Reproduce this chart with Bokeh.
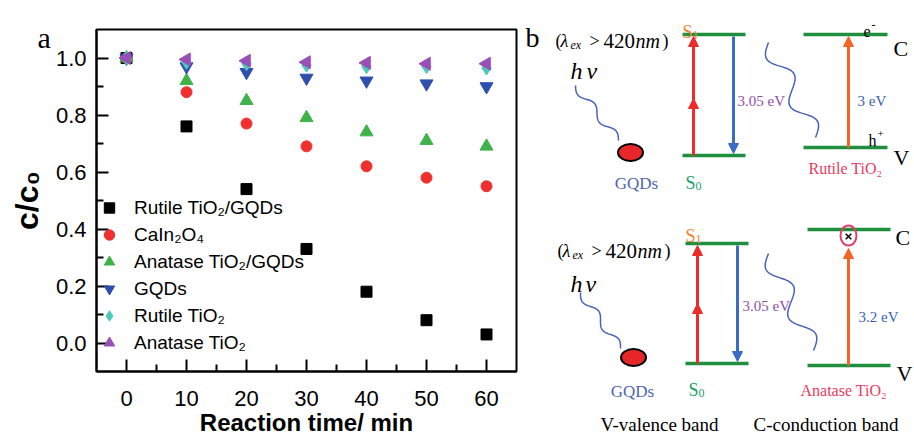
import numpy as np
from bokeh.plotting import figure
from bokeh.models import Range1d, FixedTicker, PrintfTickFormatter, Arrow, NormalHead
from bokeh.layouts import row
from bokeh.core.properties import value
from bokeh.embed import file_html
from bokeh.resources import INLINE

# ---------------- data (panel a) ----------------
time_min = [0, 10, 20, 30, 40, 50, 60]
rutile_tio2_gqds = [1.0, 0.76, 0.54, 0.33, 0.18, 0.08, 0.03]
cain2o4 = [1.0, 0.88, 0.77, 0.69, 0.62, 0.58, 0.55]
anatase_tio2_gqds = [1.0, 0.92, 0.85, 0.79, 0.74, 0.71, 0.69]
gqds = [1.0, 0.97, 0.95, 0.93, 0.92, 0.91, 0.90]
rutile_tio2 = [1.0, 0.985, 0.98, 0.975, 0.97, 0.97, 0.965]
anatase_tio2 = [1.0, 0.995, 0.99, 0.985, 0.983, 0.98, 0.98]

series_labels = ["Rutile TiO\u2082/GQDs", "CaIn\u2082O\u2084", "Anatase TiO\u2082/GQDs",
                 "GQDs", "Rutile TiO\u2082", "Anatase TiO\u2082"]
x_ticks = [0, 10, 20, 30, 40, 50, 60]
x_minor = [5, 15, 25, 35, 45, 55]
y_ticks = [0.0, 0.2, 0.4, 0.6, 0.8, 1.0]
y_minor = [0.1, 0.3, 0.5, 0.7, 0.9]

SANS = "Liberation Sans"
SERIF = "Liberation Serif"

# ---------------- panel a ----------------
pa = figure(width=520, height=438, x_range=Range1d(-5, 65), y_range=Range1d(-0.1, 1.1),
            output_backend="svg", toolbar_location=None,
            min_border_left=96, min_border_right=4, min_border_top=29, min_border_bottom=67)
pa.frame_align = False
pa.grid.visible = False
pa.outline_line_color = "black"
pa.outline_line_width = 2

styles = [
    (rutile_tio2_gqds, "square", "#000000", 11, 0.0),
    (cain2o4, "circle", "#f0302e", 11, 0.0),
    (anatase_tio2_gqds, "triangle", "#3fb24a", 13, 0.0),
    (gqds, "inverted_triangle", "#2f4fae", 13, 0.0),
    (rutile_tio2, "diamond", "#4ec9b7", 14, 0.0),
    (anatase_tio2, "triangle", "#9a4fb8", 13, np.pi / 2),
]
for (vals, mk, col, sz, ang), lab in zip(styles, series_labels):
    pa.scatter(time_min, vals, marker=mk, size=sz, angle=ang, fill_color=col,
               line_color=col, legend_label=lab)

pa.xaxis.ticker = FixedTicker(ticks=x_ticks, minor_ticks=x_minor)
pa.yaxis.ticker = FixedTicker(ticks=y_ticks, minor_ticks=y_minor)
pa.yaxis.formatter = PrintfTickFormatter(format="%.1f")
for ax in pa.axis:
    ax.major_tick_in = 12
    ax.major_tick_out = 0
    ax.minor_tick_in = 7
    ax.minor_tick_out = 0
    ax.major_tick_line_width = 2
    ax.minor_tick_line_width = 2
    ax.axis_line_width = 2
    ax.axis_line_color = "black"
    ax.major_tick_line_color = "black"
    ax.minor_tick_line_color = "black"
    ax.major_label_text_font = SANS
    ax.major_label_text_font_size = "22px"
    ax.major_label_text_color = "black"
pa.xaxis.major_label_standoff = 19
pa.yaxis.major_label_standoff = 10
pa.yaxis.axis_label = "c/c\u2080"
pa.yaxis.axis_label_text_font = SANS
pa.yaxis.axis_label_text_font_size = "32px"
pa.yaxis.axis_label_text_font_style = "bold"
pa.yaxis.axis_label_text_color = "black"
pa.yaxis.axis_label_standoff = 8
pa.xaxis.axis_label = "Reaction time/ min"
pa.xaxis.axis_label_text_font = SANS
pa.xaxis.axis_label_text_font_size = "24px"
pa.xaxis.axis_label_text_font_style = "bold"
pa.xaxis.axis_label_text_color = "black"
pa.xaxis.axis_label_standoff = 0

lg = pa.legend[0]
lg.location = (0, 15)
lg.glyph_width = 26
lg.glyph_height = 27
lg.label_height = 27
lg.spacing = 0
lg.padding = 0
lg.margin = 0
lg.label_standoff = 12
lg.label_text_font = SANS
lg.label_text_font_size = "19px"
lg.label_text_color = "black"
lg.background_fill_alpha = 0
lg.border_line_alpha = 0

# ---------------- panel b (schematic, transparent overlay in page pixels) ----------------
pb = figure(width=914, height=438, x_range=Range1d(0, 914), y_range=Range1d(438, 0),
            output_backend="svg", toolbar_location=None,
            x_axis_location=None, y_axis_location=None,
            min_border_left=0, min_border_right=0, min_border_top=0, min_border_bottom=0)
pb.frame_align = False
pb.grid.visible = False
pb.outline_line_color = None
pb.background_fill_color = None
pb.border_fill_color = None
pb.styles = {"margin-left": "-520px"}

GREEN = "#1f8f3f"
RED = "#ee2b2b"
BLUE = "#3b6bc6"
ORANGE = "#f26522"
PURPLE = "#8e4fa8"
EVBLUE = "#3c5fb8"
GQDBLUE = "#5066b0"
PINK = "#ec3a5f"
WAVE = "#4a63b8"

# energy levels: (x_start, x_end, y)
levels = [(682, 745, 34), (682, 745, 155), (803, 887, 34), (803, 887, 147),
          (685, 748, 243), (685, 748, 363), (807, 890, 229), (807, 890, 365)]
pb.segment(x0=[l[0] for l in levels], x1=[l[1] for l in levels],
           y0=[l[2] for l in levels], y1=[l[2] for l in levels],
           line_color=GREEN, line_width=3.5)

# arrows: (x0, y0, x1, y1, color)
arrows = [(693, 155, 693, 36, RED), (693, 155, 693, 98, RED), (733, 36, 733, 153, BLUE),
          (848, 147, 848, 36, ORANGE),
          (697, 363, 697, 245, RED), (697, 363, 697, 303, RED), (737, 245, 737, 361, BLUE),
          (848, 365, 848, 248, ORANGE)]
for x0, y0, x1, y1, c in arrows:
    pb.add_layout(Arrow(end=NormalHead(size=10, fill_color=c, line_color=c, line_width=1),
                        x_start=x0, y_start=y0, x_end=x1, y_end=y1,
                        line_color=c, line_width=3))


def wave(x0, y0, x1, y1, amp, cycles, n=90):
    t = np.linspace(0, 1, n)
    dx, dy = x1 - x0, y1 - y0
    L = np.hypot(dx, dy)
    nx, ny = -dy / L, dx / L
    off = amp * np.sin(2 * np.pi * cycles * t)
    return x0 + dx * t + nx * off, y0 + dy * t + ny * off


waves = [(575, 85, 618, 140, 4, 2.0), (768, 42, 815, 137, 9, 2.0),
         (580, 292, 620, 348, 4, 2.0), (768, 253, 813, 350, 9, 2.0)]
for w in waves:
    wx, wy = wave(*w)
    pb.line(wx, wy, line_color=WAVE, line_width=1.5)

# GQD dots
pb.ellipse(x=[630, 633], y=[152, 357], width=25, height=17, fill_color="#e82828",
           line_color="black", line_width=2)
# blocked electron marker
pb.ellipse(x=[848], y=[235], width=16, height=20, fill_color=None, line_color="#e0406a",
           line_width=2)
pb.scatter(x=[848], y=[236], marker="x", size=8, line_color="black", line_width=1.5)

# texts: (x, y, text, size, color, style, align)
texts = [
    (37, 37, "a", 30, "black", "normal", "left"),
    (525, 37, "b", 28, "black", "normal", "left"),
    # top half
    (555, 40, "(", 18, "black", "normal", "left"),
    (560, 40, "\u03bb", 18, "black", "italic", "left"),
    (570, 44, "ex", 12, "black", "italic", "left"),
    (589, 40, ">", 18, "black", "normal", "left"),
    (603, 40, "420", 21, "black", "normal", "left"),
    (635, 40, "nm", 20, "black", "italic", "left"),
    (662, 40, ")", 18, "black", "normal", "left"),
    (570, 70, "h", 24, "black", "italic", "left"),
    (586, 70, "\u03bd", 24, "black", "italic", "left"),
    (636, 183, "GQDs", 17, GQDBLUE, "normal", "center"),
    (682, 31, "S", 18, "#f58231", "normal", "left"),
    (692, 34, "1", 12, "#f58231", "normal", "left"),
    (685, 182, "S", 18, "#22a06b", "normal", "left"),
    (695, 185, "0", 12, "#22a06b", "normal", "left"),
    (737, 100, "3.05 eV", 15, PURPLE, "normal", "left"),
    (863, 31, "e", 16, "black", "normal", "left"),
    (871, 24, "-", 12, "black", "normal", "left"),
    (893, 48, "C", 22, "black", "normal", "left"),
    (857, 100, "3 eV", 15, EVBLUE, "normal", "left"),
    (868, 140, "h", 16, "black", "normal", "left"),
    (877, 133, "+", 11, "black", "normal", "left"),
    (893, 157, "V", 22, "black", "normal", "left"),
    (808, 168, "Rutile TiO\u2082", 16, PINK, "normal", "left"),
    # bottom half
    (557, 250, "(", 18, "black", "normal", "left"),
    (562, 250, "\u03bb", 18, "black", "italic", "left"),
    (572, 254, "ex", 12, "black", "italic", "left"),
    (591, 250, ">", 18, "black", "normal", "left"),
    (605, 250, "420", 21, "black", "normal", "left"),
    (637, 250, "nm", 20, "black", "italic", "left"),
    (664, 250, ")", 18, "black", "normal", "left"),
    (570, 283, "h", 24, "black", "italic", "left"),
    (585, 283, "\u03bd", 24, "black", "italic", "left"),
    (632, 391, "GQDs", 17, GQDBLUE, "normal", "center"),
    (685, 235, "S", 18, "#f58231", "normal", "left"),
    (695, 238, "1", 12, "#f58231", "normal", "left"),
    (688, 389, "S", 18, "#22a06b", "normal", "left"),
    (698, 392, "0", 12, "#22a06b", "normal", "left"),
    (742, 305, "3.05 eV", 15, PURPLE, "normal", "left"),
    (895, 237, "C", 22, "black", "normal", "left"),
    (858, 316, "3.2 eV", 15, EVBLUE, "normal", "left"),
    (896, 373, "V", 22, "black", "normal", "left"),
    (800, 390, "Anatase TiO\u2082", 16, PINK, "normal", "left"),
    (600, 424, "V-valence band", 19, "black", "normal", "left"),
    (753, 424, "C-conduction band", 19, "black", "normal", "left"),
]
for x, y, s, size, col, style, align in texts:
    pb.text(x=[x], y=[y], text=[s], text_font=value(SERIF), text_font_size=value(f"{size}px"),
            text_color=col, text_font_style=style, text_align=align,
            text_baseline="alphabetic")

layout = row(pa, pb)
open("out.html", "w").write(file_html(layout, INLINE))
